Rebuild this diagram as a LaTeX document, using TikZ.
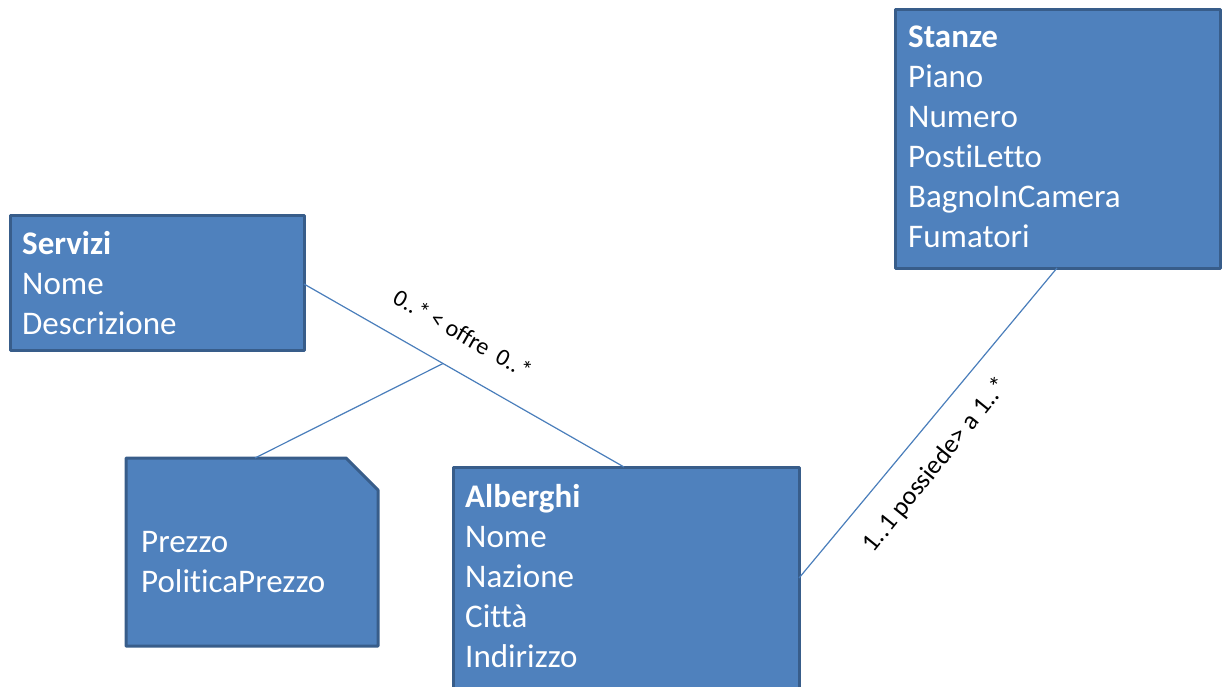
\documentclass[tikz,border=0pt]{standalone}
\usepackage{fontspec}
\setmainfont{Carlito}[Ligatures=NoCommon]
\definecolor{boxfill}{HTML}{4F81BD}
\definecolor{boxline}{HTML}{385D8A}
\definecolor{conn}{HTML}{4A7EBB}
\begin{document}
\begin{tikzpicture}[x=1pt,y=-1pt,
  cls/.style={draw=boxline,fill=boxfill,line width=3pt,rectangle,inner sep=0pt,line join=round},
  txt/.style={anchor=base west,inner sep=0pt,text=white,font=\fontsize{33}{40}\selectfont},
  conline/.style={draw=conn,line width=1.2pt},
  lbl/.style={inner sep=0pt,font=\fontsize{24}{26}\selectfont}]
\useasboundingbox (0,0) rectangle (1222,687);
% boxes
\node[cls,minimum width=294pt,minimum height=135pt] (serv) at (157,282.5) {};
\node[cls,minimum width=325pt,minimum height=258pt] (stan) at (1057.5,139) {};
\node[cls,minimum width=346pt,minimum height=240pt] (alb) at (626,587) {};
\draw[draw=boxline,fill=boxfill,line width=3pt,line join=round]
  (126,458) -- (346,458) -- (378,490) -- (378,646) -- (126,646) -- cycle;
\coordinate (notetop) at (255,458);
% texts
\node[txt] (servt) at (22,254) {\parbox[t]{280pt}{\raggedright\textbf{Servizi}\\Nome\\Descrizione}};
\node[txt] (stant) at (908,48) {\parbox[t]{310pt}{\raggedright\textbf{Stanze}\\Piano\\Numero\\PostiLetto\\BagnoInCamera\\Fumatori}};
\node[txt] (albt) at (465,507) {\parbox[t]{320pt}{\raggedright\textbf{Alberghi}\\Nome\\Nazione\\Città\\Indirizzo}};
\node[txt] (notet) at (141,552) {\parbox[t]{230pt}{\raggedright Prezzo\\PoliticaPrezzo}};
% connectors
\coordinate (sA) at (304,284);
\coordinate (aS) at (624,467);
\coordinate (mid) at (443,363.5);
\coordinate (stB) at (1057,268);
\coordinate (aSt) at (799,578);
\draw[conline] (sA) -- (aS);
\draw[conline] (notetop) -- (mid);
\draw[conline] (stB) -- (aSt);
% labels
\node[lbl,rotate=-29.8] (l1) at (463,334) {0..\kern1pt* < offre~~0..\kern1pt*};
\node[lbl,rotate=51,font=\fontsize{26}{28}\selectfont] (l2) at (936,465) {1..1 possiede> a 1..\kern1pt*};
\end{tikzpicture}
\end{document}
